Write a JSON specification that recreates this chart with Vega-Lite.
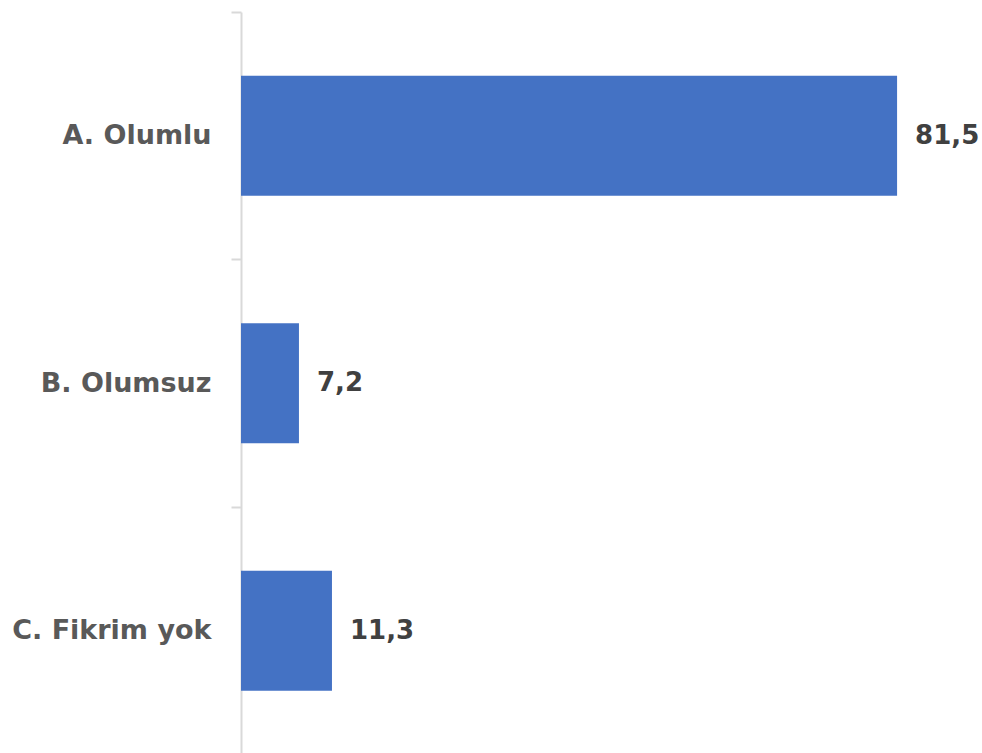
{
  "$schema": "https://vega.github.io/schema/vega-lite/v6.json",
  "width": 805,
  "height": 742.5,
  "autosize": {"type": "none"},
  "padding": {"left": 241, "top": 12, "right": 0, "bottom": 0},
  "background": "white",
  "config": {"view": {"stroke": null}},
  "data": {"values": [
    {"cat": "A. Olumlu", "val": 81.5, "lbl": "81,5"},
    {"cat": "B. Olumsuz", "val": 7.2, "lbl": "7,2"},
    {"cat": "C. Fikrim yok", "val": 11.3, "lbl": "11,3"}
  ]},
  "encoding": {
    "y": {"field": "cat", "type": "nominal", "sort": null,
      "scale": {"paddingInner": 0.515, "paddingOuter": 0.2575},
      "axis": {"title": null, "bandPosition": 0, "tickOffset": -64, "labelOffset": 64,
        "domainColor": "#d9d9d9", "domainWidth": 2, "tickColor": "#d9d9d9", "tickWidth": 2, "tickSize": 10,
        "labelFont": "DejaVu Sans", "labelFontWeight": "bold", "labelFontSize": 27, "labelColor": "#595959",
        "labelPadding": 20, "labelLimit": 240}},
    "x": {"field": "val", "type": "quantitative", "scale": {"domain": [0, 100], "nice": false}, "axis": null}
  },
  "layer": [
    {"mark": {"type": "bar", "color": "#4472c4", "orient": "horizontal"}},
    {"mark": {"type": "text", "align": "left", "dx": 18, "font": "DejaVu Sans", "fontWeight": "bold", "fontSize": 26, "color": "#404040"},
     "encoding": {"text": {"field": "lbl"}}}
  ]
}
